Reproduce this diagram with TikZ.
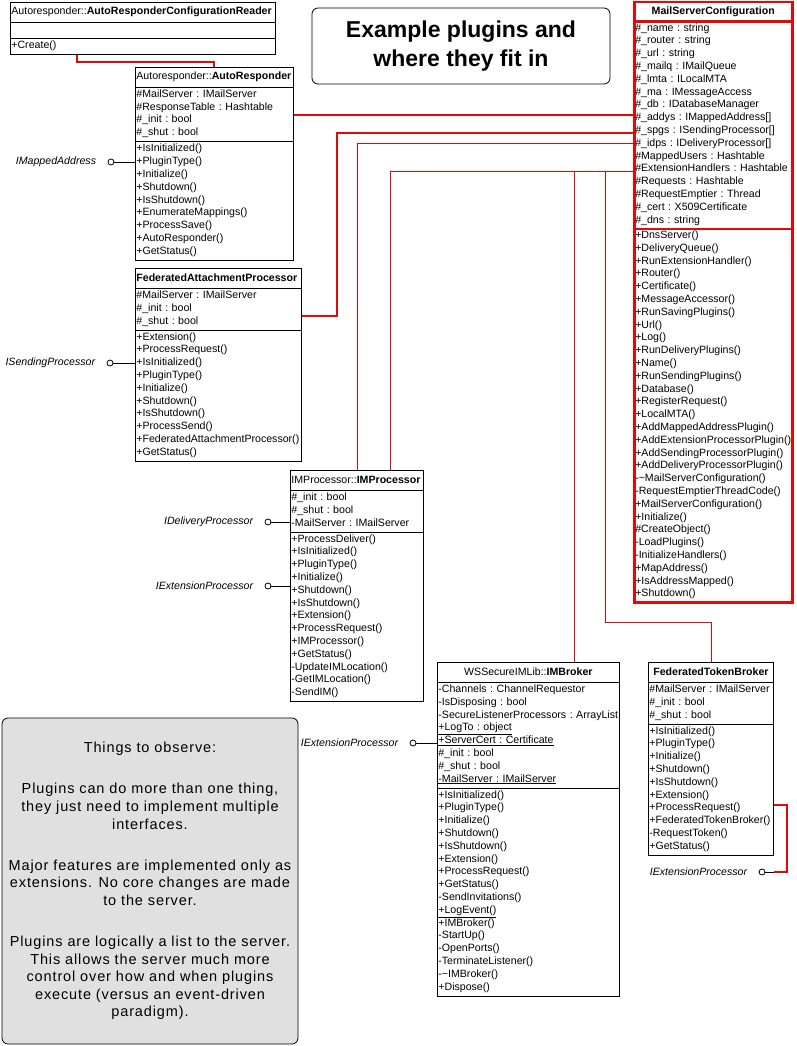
\documentclass[tikz,border=0pt]{standalone}
\usepackage{fontspec}
\setmainfont{Liberation Sans}
\newfontfamily\notefont{Liberation Sans}[LetterSpace=6.0]
\usetikzlibrary{shapes.multipart}
\definecolor{linkred}{RGB}{225,10,10}
\newcommand{\rs}{\rule[-4.4pt]{0pt}{12.8pt}}
\newcommand{\hs}{\rule[-5.8pt]{0pt}{16.8pt}}
\newcommand{\classfont}{\fontsize{10.6}{12.8}\selectfont\frenchspacing\hyphenpenalty10000\relax}
\tikzset{
  umlclass/.style={rectangle split, rectangle split parts=3, draw, line width=0.8pt,
    anchor=north west, inner xsep=1pt, inner ysep=1.2pt, align=left, font=\classfont},
  mainclass/.style={umlclass, draw=linkred, line width=2.5pt, inner ysep=0pt},
  iface/.style={circle, draw, line width=0.8pt, inner sep=0pt, minimum size=6pt},
  iflabel/.style={font=\fontsize{10.6}{12.8}\selectfont\itshape, xshift=-8pt},
  stub/.style={line width=0.8pt},
  link/.style={draw=linkred, line width=1.8pt},
  thinlink/.style={draw=linkred, line width=1pt},
  titlebox/.style={draw, line width=0.8pt, rounded corners=6pt, minimum width=298pt,
    minimum height=76pt, align=center, font=\bfseries\fontsize{23}{29}\selectfont},
  notebox/.style={draw, line width=0.8pt, fill=black!12, rounded corners=6pt, minimum width=296pt,
    minimum height=326pt, align=center, font=\notefont\fontsize{14.5}{17.6}\selectfont},
}

\begin{document}
\begin{tikzpicture}[x=1pt, y=-1pt]
  \useasboundingbox (0,0) rectangle (796,1046);

  \node[titlebox] (title) at (461,46) {Example plugins and\\where they fit in};

  % the plugins
  \node[umlclass, text width=263pt] (arcr) at (10,2)
    {\hs Autoresponder::\textbf{AutoResponderConfigurationReader}
     \nodepart{two}\rs
     \nodepart{three}\rs+Create()\rs};

  \node[umlclass, text width=156pt] (ar) at (135,67)
    {\hs Autoresponder::\textbf{AutoResponder}
     \nodepart{two}\rs\#MailServer : IMailServer\\\#ResponseTable : Hashtable\\
       \#\_init : bool\\\#\_shut : bool\rs
     \nodepart{three}\rs+IsInitialized()\\+PluginType()\\+Initialize()\\+Shutdown()\\
       +IsShutdown()\\+EnumerateMappings()\\+ProcessSave()\\+AutoResponder()\\+GetStatus()\rs};

  \node[umlclass, text width=164pt] (fap) at (135,268)
    {\hs\textbf{FederatedAttachmentProcessor}
     \nodepart{two}\rs\#MailServer : IMailServer\\\#\_init : bool\\\#\_shut : bool\rs
     \nodepart{three}\rs+Extension()\\+ProcessRequest()\\+IsInitialized()\\+PluginType()\\
       +Initialize()\\+Shutdown()\\+IsShutdown()\\+ProcessSend()\\
       +FederatedAttachmentProcessor()\\+GetStatus()\rs};

  \node[umlclass, text width=131pt] (imp) at (290,470)
    {\hs IMProcessor::\textbf{IMProcessor}
     \nodepart{two}\rs\#\_init : bool\\\#\_shut : bool\\-MailServer : IMailServer\rs
     \nodepart{three}\rs+ProcessDeliver()\\+IsInitialized()\\+PluginType()\\+Initialize()\\
       +Shutdown()\\+IsShutdown()\\+Extension()\\+ProcessRequest()\\+IMProcessor()\\
       +GetStatus()\\-UpdateIMLocation()\\-GetIMLocation()\\-SendIM()\rs};

  \node[umlclass, text width=180pt] (imb) at (437,662)
    {\hs\hfill WSSecureIMLib::\textbf{IMBroker}\hfill\null
     \nodepart{two}\rs-Channels : ChannelRequestor\\-IsDisposing : bool\\
       -SecureListenerProcessors : ArrayList\\\underline{+LogTo : object}\\
       \underline{+ServerCert : Certificate}\\\#\_init : bool\\\#\_shut : bool\\
       \underline{-MailServer : IMailServer}\rs
     \nodepart{three}\rs+IsInitialized()\\+PluginType()\\+Initialize()\\+Shutdown()\\
       +IsShutdown()\\+Extension()\\+ProcessRequest()\\+GetStatus()\\-SendInvitations()\\
       \underline{+LogEvent()}\\+IMBroker()\\-StartUp()\\-OpenPorts()\\-TerminateListener()\\
       -\textasciitilde IMBroker()\\+Dispose()\rs};

  \node[umlclass, text width=123pt] (ftb) at (648,662)
    {\hs\hfill\textbf{FederatedTokenBroker}\hfill\null
     \nodepart{two}\rs\#MailServer : IMailServer\\\#\_init : bool\\\#\_shut : bool\rs
     \nodepart{three}\rs+IsInitialized()\\+PluginType()\\+Initialize()\\+Shutdown()\\
       +IsShutdown()\\+Extension()\\+ProcessRequest()\\+FederatedTokenBroker()\\
       -RequestToken()\\+GetStatus()\rs};

  % the server
  \node[mainclass, text width=156pt] (msc) at (633,1)
    {\hs\hfill\textbf{MailServerConfiguration}\hfill\null
     \nodepart{two}\rs\#\_name : string\\\#\_router : string\\\#\_url : string\\
       \#\_mailq : IMailQueue\\\#\_lmta : ILocalMTA\\\#\_ma : IMessageAccess\\
       \#\_db : IDatabaseManager\\\#\_addys : IMappedAddress[]\\
       \#\_spgs : ISendingProcessor[]\\\#\_idps : IDeliveryProcessor[]\\
       \#MappedUsers : Hashtable\\\#ExtensionHandlers : Hashtable\\\#Requests : Hashtable\\
       \#RequestEmptier : Thread\\\#\_cert : X509Certificate\\\#\_dns : string\rs
     \nodepart{three}\rs+DnsServer()\\+DeliveryQueue()\\+RunExtensionHandler()\\+Router()\\
       +Certificate()\\+MessageAccessor()\\+RunSavingPlugins()\\+Url()\\+Log()\\
       +RunDeliveryPlugins()\\+Name()\\+RunSendingPlugins()\\+Database()\\
       +RegisterRequest()\\+LocalMTA()\\+AddMappedAddressPlugin()\\
       +AddExtensionProcessorPlugin()\\+AddSendingProcessorPlugin()\\
       +AddDeliveryProcessorPlugin()\\-\textasciitilde MailServerConfiguration()\\
       -RequestEmptierThreadCode()\\+MailServerConfiguration()\\+Initialize()\\
       \#CreateObject()\\-LoadPlugins()\\-InitializeHandlers()\\+MapAddress()\\
       +IsAddressMapped()\\+Shutdown()\rs};

  % interfaces
  \node[iface, label={[iflabel]left:IMappedAddress}] (ima) at (111,162) {};
  \node[iface, label={[iflabel]left:ISendingProcessor}] (isp) at (110,363) {};
  \node[iface, label={[iflabel]left:IDeliveryProcessor}] (idp) at (268,522) {};
  \node[iface, label={[iflabel]left:IExtensionProcessor}] (iep1) at (268,586) {};
  \node[iface, label={[iflabel]left:IExtensionProcessor}] (iep2) at (413,743) {};
  \node[iface, label={[iflabel]left:IExtensionProcessor}] (iep3) at (762,872) {};
  \coordinate (iep3j) at (774,872);

  \draw[stub] (ima) -- (ar.west |- ima);
  \draw[stub] (isp) -- (fap.west |- isp);
  \draw[stub] (idp) -- (imp.west |- idp);
  \draw[stub] (iep1) -- (imp.west |- iep1);
  \draw[stub] (iep2) -- (imb.west |- iep2);
  \draw[stub] (iep3) -- (iep3j);
  \draw[link] (ftb.east |- 0,805) -| (787,872) -- (iep3j);

  % links to the server
  \coordinate (ext) at (msc.west |- 0,171);
  \draw[link] (arcr.south -| 77,0) -- ++(0,7) -| (ar.north -| 214,0);
  \draw[link] (ar.east |- 0,115) -- (msc.west |- 0,115);
  \draw[link] (fap.east |- 0,316) -| (337,133) -- (msc.west |- 0,133);
  \draw[thinlink] (imp.north -| 357,0) |- (msc.west |- 0,143);
  \draw[thinlink] (imp.north -| 390,0) |- (ext);
  \draw[thinlink] (imb.north -| 574,0) |- (ext);
  \draw[thinlink] (ftb.north -| 711,0) |- (605,622) |- (ext);

  \node[notebox] (notes) at (150,881)
    {Things to observe:\\[23.5pt]
     Plugins can do more than one thing,\\they just need to implement multiple\\interfaces.\\[23.5pt]
     Major features are implemented only as\\extensions. No core changes are made\\to the server.\\[23.5pt]
     Plugins are logically a list to the server.\\This allows the server much more\\
     control over how and when plugins\\execute (versus an event-driven\\paradigm).};
\end{tikzpicture}
\end{document}
